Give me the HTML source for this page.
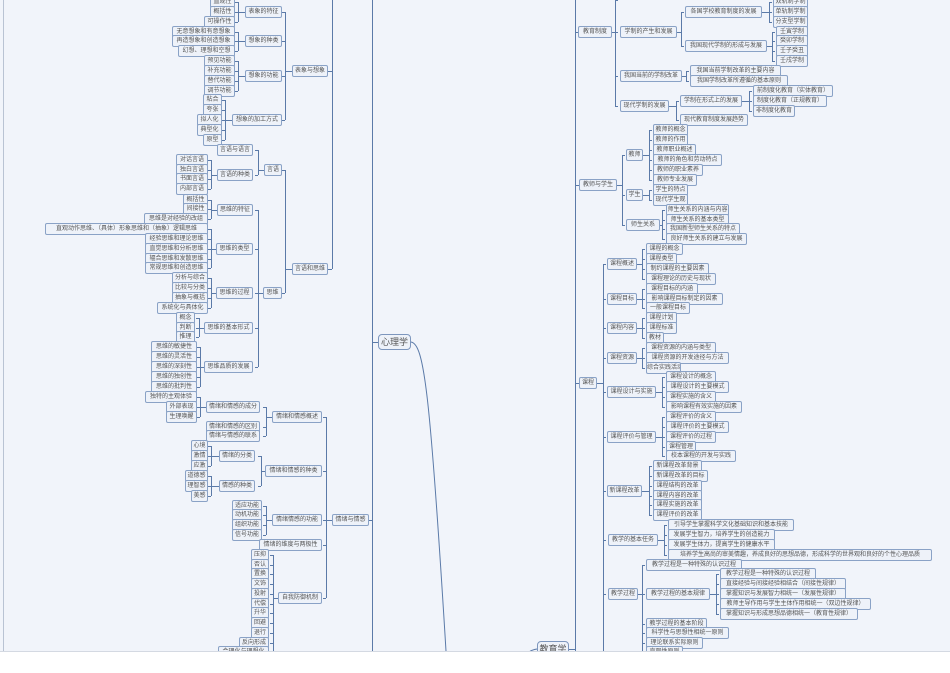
<!DOCTYPE html>
<html><head><meta charset="utf-8">
<style>
html,body{margin:0;padding:0}
body{width:950px;height:672px;position:relative;overflow:hidden;background:#fff}
#bg{position:absolute;left:0;top:0;width:950px;height:651px;background:#f1f4fa;border-bottom:1px solid #d4d9e2}
#lb{position:absolute;left:3px;top:0;width:1px;height:651px;background:#b9c3d3}
.n{position:absolute;box-sizing:border-box;height:12px;border:1px solid #8aa2c6;border-radius:2px;background:#eef2f9;font:6px/10px "Liberation Sans","Noto Sans CJK SC",sans-serif;color:#555;text-align:center;white-space:nowrap;overflow:hidden}
.big{height:16px;font-size:9px;line-height:14px;border-radius:4px;border-color:#7d96bd}
svg{position:absolute;left:0;top:0}
</style></head><body>
<div id="bg"></div><div id="lb"></div>
<svg id="s" width="950" height="651" viewBox="0 0 950 651">
<path d="M411 342 C424 344 430 390 446 651" fill="none" stroke="#5b7aa8" stroke-width="1"/>
<path d="M537 649 Q530 650 527 654" fill="none" stroke="#5b7aa8" stroke-width="1"/>
</svg>

<!-- LEFT -->
<div class="n" style="left:292px;top:65px;width:36px">表象与想象</div>
<div class="n" style="left:245px;top:6px;width:37px">表象的特征</div>
<div class="n" style="left:210px;top:-4px;width:25px">直观性</div>
<div class="n" style="left:210px;top:6px;width:25px">概括性</div>
<div class="n" style="left:204px;top:16px;width:31px">可操作性</div>
<div class="n" style="left:245px;top:35px;width:37px">想象的种类</div>
<div class="n" style="left:172px;top:26px;width:63px">无意想象和有意想象</div>
<div class="n" style="left:172px;top:35px;width:63px">再造想象和创造想象</div>
<div class="n" style="left:178px;top:45px;width:57px">幻想、理想和空想</div>
<div class="n" style="left:245px;top:70px;width:37px">想象的功能</div>
<div class="n" style="left:204px;top:55px;width:31px">预见功能</div>
<div class="n" style="left:204px;top:65px;width:31px">补充功能</div>
<div class="n" style="left:204px;top:75px;width:31px">替代功能</div>
<div class="n" style="left:204px;top:85px;width:31px">调节功能</div>
<div class="n" style="left:232px;top:114px;width:50px">想象的加工方式</div>
<div class="n" style="left:203px;top:94px;width:19px">粘合</div>
<div class="n" style="left:203px;top:104px;width:19px">夸张</div>
<div class="n" style="left:197px;top:114px;width:25px">拟人化</div>
<div class="n" style="left:197px;top:124px;width:25px">典型化</div>
<div class="n" style="left:203px;top:134px;width:19px">原型</div>
<div class="n" style="left:292px;top:263px;width:36px">言语和思维</div>
<div class="n" style="left:264px;top:164px;width:18px">言语</div>
<div class="n" style="left:217px;top:144px;width:36px">言语与语言</div>
<div class="n" style="left:217px;top:169px;width:36px">言语的种类</div>
<div class="n" style="left:176px;top:154px;width:32px">对话言语</div>
<div class="n" style="left:176px;top:164px;width:32px">独白言语</div>
<div class="n" style="left:176px;top:173px;width:32px">书面言语</div>
<div class="n" style="left:176px;top:183px;width:32px">内部言语</div>
<div class="n" style="left:263px;top:287px;width:19px">思维</div>
<div class="n" style="left:217px;top:204px;width:36px">思维的特征</div>
<div class="n" style="left:183px;top:194px;width:25px">概括性</div>
<div class="n" style="left:183px;top:203px;width:25px">间接性</div>
<div class="n" style="left:144px;top:213px;width:64px">思维是对经验的改组</div>
<div class="n" style="left:216px;top:243px;width:37px">思维的类型</div>
<div class="n" style="left:45px;top:223px;width:163px">直观动作思维、（具体）形象思维和（抽象）逻辑思维</div>
<div class="n" style="left:145px;top:233px;width:63px">经验思维和理论思维</div>
<div class="n" style="left:145px;top:243px;width:63px">直觉思维和分析思维</div>
<div class="n" style="left:145px;top:253px;width:63px">辐合思维和发散思维</div>
<div class="n" style="left:145px;top:262px;width:63px">常规思维和创造思维</div>
<div class="n" style="left:216px;top:287px;width:37px">思维的过程</div>
<div class="n" style="left:172px;top:272px;width:36px">分析与综合</div>
<div class="n" style="left:172px;top:282px;width:36px">比较与分类</div>
<div class="n" style="left:172px;top:292px;width:36px">抽象与概括</div>
<div class="n" style="left:157px;top:302px;width:51px">系统化与具体化</div>
<div class="n" style="left:204px;top:322px;width:49px">思维的基本形式</div>
<div class="n" style="left:176px;top:312px;width:19px">概念</div>
<div class="n" style="left:176px;top:322px;width:19px">判断</div>
<div class="n" style="left:176px;top:331px;width:19px">推理</div>
<div class="n" style="left:204px;top:361px;width:49px">思维品质的发展</div>
<div class="n" style="left:151px;top:341px;width:46px">思维的敏捷性</div>
<div class="n" style="left:151px;top:351px;width:46px">思维的灵活性</div>
<div class="n" style="left:151px;top:361px;width:46px">思维的深刻性</div>
<div class="n" style="left:151px;top:371px;width:46px">思维的独创性</div>
<div class="n" style="left:151px;top:381px;width:46px">思维的批判性</div>
<div class="n" style="left:332px;top:514px;width:37px">情绪与情感</div>
<div class="n" style="left:272px;top:411px;width:50px">情绪和情感概述</div>
<div class="n" style="left:206px;top:401px;width:54px">情绪和情感的成分</div>
<div class="n" style="left:206px;top:421px;width:54px">情绪和情感的区别</div>
<div class="n" style="left:206px;top:430px;width:54px">情绪与情感的联系</div>
<div class="n" style="left:145px;top:391px;width:52px">独特的主观体验</div>
<div class="n" style="left:166px;top:401px;width:31px">外部表现</div>
<div class="n" style="left:166px;top:411px;width:31px">生理唤醒</div>
<div class="n" style="left:265px;top:465px;width:57px">情绪和情感的种类</div>
<div class="n" style="left:219px;top:450px;width:36px">情绪的分类</div>
<div class="n" style="left:219px;top:480px;width:36px">情感的种类</div>
<div class="n" style="left:191px;top:440px;width:17px">心境</div>
<div class="n" style="left:191px;top:450px;width:17px">激情</div>
<div class="n" style="left:191px;top:460px;width:17px">应激</div>
<div class="n" style="left:185px;top:470px;width:23px">道德感</div>
<div class="n" style="left:185px;top:480px;width:23px">理智感</div>
<div class="n" style="left:191px;top:490px;width:17px">美感</div>
<div class="n" style="left:272px;top:514px;width:50px">情绪情感的功能</div>
<div class="n" style="left:232px;top:500px;width:30px">适应功能</div>
<div class="n" style="left:232px;top:509px;width:30px">动机功能</div>
<div class="n" style="left:232px;top:519px;width:30px">组织功能</div>
<div class="n" style="left:232px;top:529px;width:30px">信号功能</div>
<div class="n" style="left:259px;top:539px;width:63px">情绪的维度与两极性</div>
<div class="n" style="left:278px;top:592px;width:44px">自我防御机制</div>
<div class="n" style="left:251px;top:549px;width:18px">压抑</div>
<div class="n" style="left:251px;top:559px;width:18px">否认</div>
<div class="n" style="left:251px;top:568px;width:18px">置换</div>
<div class="n" style="left:251px;top:578px;width:18px">文饰</div>
<div class="n" style="left:251px;top:588px;width:18px">投射</div>
<div class="n" style="left:251px;top:598px;width:18px">代偿</div>
<div class="n" style="left:251px;top:607px;width:18px">升华</div>
<div class="n" style="left:251px;top:617px;width:18px">回避</div>
<div class="n" style="left:251px;top:627px;width:18px">退行</div>
<div class="n" style="left:239px;top:637px;width:30px">反向形成</div>
<div class="n" style="left:218px;top:646px;width:51px">合理化与理想化</div>
<div class="n big" style="left:378px;top:334px;width:33px">心理学</div>

<!-- RIGHT -->
<div class="n" style="left:578px;top:26px;width:34px">教育制度</div>
<div class="n" style="left:620px;top:26px;width:57px">学制的产生和发展</div>
<div class="n" style="left:685px;top:6px;width:77px">各国学校教育制度的发展</div>
<div class="n" style="left:773px;top:-4px;width:35px">双轨制学制</div>
<div class="n" style="left:773px;top:6px;width:35px">单轨制学制</div>
<div class="n" style="left:773px;top:16px;width:35px">分支型学制</div>
<div class="n" style="left:685px;top:40px;width:82px">我国现代学制的形成与发展</div>
<div class="n" style="left:776px;top:26px;width:32px">壬寅学制</div>
<div class="n" style="left:776px;top:35px;width:32px">癸卯学制</div>
<div class="n" style="left:776px;top:45px;width:32px">壬子癸丑</div>
<div class="n" style="left:776px;top:55px;width:32px">壬戌学制</div>
<div class="n" style="left:620px;top:70px;width:62px">我国当前的学制改革</div>
<div class="n" style="left:690px;top:65px;width:91px">我国当前学制改革的主要内容</div>
<div class="n" style="left:690px;top:75px;width:98px">我国学制改革所遵循的基本原则</div>
<div class="n" style="left:620px;top:100px;width:49px">现代学制的发展</div>
<div class="n" style="left:680px;top:95px;width:62px">学制在形式上的发展</div>
<div class="n" style="left:680px;top:114px;width:68px">现代教育制度发展趋势</div>
<div class="n" style="left:753px;top:85px;width:80px">前制度化教育（实体教育）</div>
<div class="n" style="left:753px;top:95px;width:74px">制度化教育（正规教育）</div>
<div class="n" style="left:753px;top:105px;width:42px">非制度化教育</div>
<div class="n" style="left:579px;top:179px;width:38px">教师与学生</div>
<div class="n" style="left:626px;top:149px;width:17px">教师</div>
<div class="n" style="left:653px;top:124px;width:35px">教师的概念</div>
<div class="n" style="left:653px;top:134px;width:35px">教师的作用</div>
<div class="n" style="left:653px;top:144px;width:43px">教师职业概述</div>
<div class="n" style="left:653px;top:154px;width:69px">教师的角色和劳动特点</div>
<div class="n" style="left:653px;top:164px;width:50px">教师的职业素养</div>
<div class="n" style="left:653px;top:174px;width:44px">教师专业发展</div>
<div class="n" style="left:626px;top:189px;width:17px">学生</div>
<div class="n" style="left:653px;top:184px;width:35px">学生的特点</div>
<div class="n" style="left:653px;top:194px;width:35px">现代学生观</div>
<div class="n" style="left:626px;top:219px;width:34px">师生关系</div>
<div class="n" style="left:666px;top:204px;width:63px">师生关系的内涵与内容</div>
<div class="n" style="left:666px;top:214px;width:63px">师生关系的基本类型</div>
<div class="n" style="left:666px;top:223px;width:74px">我国新型师生关系的特点</div>
<div class="n" style="left:666px;top:233px;width:81px">良好师生关系的建立与发展</div>
<div class="n" style="left:579px;top:377px;width:18px">课程</div>
<div class="n" style="left:607px;top:258px;width:30px">课程概述</div>
<div class="n" style="left:646px;top:243px;width:37px">课程的概念</div>
<div class="n" style="left:646px;top:253px;width:31px">课程类型</div>
<div class="n" style="left:646px;top:263px;width:63px">制约课程的主要因素</div>
<div class="n" style="left:646px;top:273px;width:70px">课程理论的历史与现状</div>
<div class="n" style="left:607px;top:293px;width:30px">课程目标</div>
<div class="n" style="left:646px;top:283px;width:52px">课程目标的内涵</div>
<div class="n" style="left:646px;top:293px;width:77px">影响课程目标制定的因素</div>
<div class="n" style="left:646px;top:302px;width:44px">一般课程目标</div>
<div class="n" style="left:607px;top:322px;width:30px">课程内容</div>
<div class="n" style="left:646px;top:312px;width:31px">课程计划</div>
<div class="n" style="left:646px;top:322px;width:31px">课程标准</div>
<div class="n" style="left:646px;top:332px;width:18px">教材</div>
<div class="n" style="left:607px;top:352px;width:30px">课程资源</div>
<div class="n" style="left:646px;top:342px;width:70px">课程资源的内涵与类型</div>
<div class="n" style="left:646px;top:352px;width:83px">课程资源的开发途径与方法</div>
<div class="n" style="left:646px;top:362px;width:35px">综合实践活动</div>
<div class="n" style="left:607px;top:386px;width:49px">课程设计与实施</div>
<div class="n" style="left:666px;top:371px;width:50px">课程设计的概念</div>
<div class="n" style="left:666px;top:381px;width:63px">课程设计的主要模式</div>
<div class="n" style="left:666px;top:391px;width:50px">课程实施的含义</div>
<div class="n" style="left:666px;top:401px;width:76px">影响课程有效实施的因素</div>
<div class="n" style="left:607px;top:431px;width:49px">课程评价与管理</div>
<div class="n" style="left:666px;top:411px;width:50px">课程评价的含义</div>
<div class="n" style="left:666px;top:421px;width:63px">课程评价的主要模式</div>
<div class="n" style="left:666px;top:431px;width:50px">课程评价的过程</div>
<div class="n" style="left:666px;top:441px;width:30px">课程管理</div>
<div class="n" style="left:666px;top:450px;width:70px">校本课程的开发与实践</div>
<div class="n" style="left:607px;top:485px;width:35px">新课程改革</div>
<div class="n" style="left:653px;top:460px;width:49px">新课程改革背景</div>
<div class="n" style="left:653px;top:470px;width:55px">新课程改革的目标</div>
<div class="n" style="left:653px;top:480px;width:49px">课程结构的改革</div>
<div class="n" style="left:653px;top:490px;width:49px">课程内容的改革</div>
<div class="n" style="left:653px;top:499px;width:49px">课程实施的改革</div>
<div class="n" style="left:653px;top:509px;width:49px">课程评价的改革</div>
<div class="n" style="left:608px;top:534px;width:50px">教学的基本任务</div>
<div class="n" style="left:668px;top:519px;width:126px">引导学生掌握科学文化基础知识和基本技能</div>
<div class="n" style="left:668px;top:529px;width:107px">发展学生智力，培养学生的创造能力</div>
<div class="n" style="left:668px;top:539px;width:107px">发展学生体力，提高学生的健康水平</div>
<div class="n" style="left:668px;top:549px;width:264px">培养学生高尚的审美情趣，养成良好的思想品德，形成科学的世界观和良好的个性心理品质</div>
<div class="n" style="left:608px;top:588px;width:30px">教学过程</div>
<div class="n" style="left:646px;top:559px;width:96px">教学过程是一种特殊的认识过程</div>
<div class="n" style="left:646px;top:588px;width:64px">教学过程的基本规律</div>
<div class="n" style="left:720px;top:568px;width:96px">教学过程是一种特殊的认识过程</div>
<div class="n" style="left:720px;top:578px;width:126px">直接经验与间接经验相结合（间接性规律）</div>
<div class="n" style="left:720px;top:588px;width:126px">掌握知识与发展智力相统一（发展性规律）</div>
<div class="n" style="left:720px;top:598px;width:151px">教师主导作用与学生主体作用相统一（双边性规律）</div>
<div class="n" style="left:720px;top:608px;width:138px">掌握知识与形成思想品德相统一（教育性规律）</div>
<div class="n" style="left:646px;top:618px;width:61px">教学过程的基本阶段</div>
<div class="n" style="left:646px;top:627px;width:83px">科学性与思想性相统一原则</div>
<div class="n" style="left:646px;top:637px;width:57px">理论联系实际原则</div>
<div class="n" style="left:646px;top:646px;width:37px">直观性原则</div>
<div class="n big" style="left:537px;top:641px;width:32px">教育学</div>
<div style="position:absolute;left:0;top:651px;width:950px;height:21px;background:#fff;border-top:1px solid #d4d9e2"></div>

<script>
var s=document.getElementById('s'),C='#5b7aa8';
function ln(x1,y1,x2,y2){var l=document.createElementNS('http://www.w3.org/2000/svg','line');l.setAttribute('x1',x1);l.setAttribute('y1',y1);l.setAttribute('x2',x2);l.setAttribute('y2',y2);l.setAttribute('stroke',C);l.setAttribute('stroke-width',1);l.setAttribute('shape-rendering','crispEdges');s.appendChild(l);}
function G(bx,px,py,ys,d){var a=ys.concat([py]);ln(bx+.5,Math.min.apply(0,a),bx+.5,Math.max.apply(0,a));ln(bx,py+.5,px,py+.5);ys.forEach(function(y){ln(bx,y+.5,bx+d,y+.5);});}
function L(bx,px,py,ys){G(bx,px,py,ys,-3);}
function R(bx,px,py,ys){G(bx,px,py,ys,3);}
ln(332.5,0,332.5,269);ln(328,71.5,332,71.5);ln(328,269.5,332,269.5);
L(285,292,71,[12,41,76,120]);L(238,245,12,[2,12,22]);L(238,245,41,[32,41,51]);L(238,245,76,[61,71,81,91]);L(225,232,120,[100,110,120,130,140]);
L(285,292,269,[170,293]);L(258,264,170,[150,175]);L(211,217,175,[160,170,179,189]);
L(258,263,293,[210,249,293,328,367]);L(211,217,210,[200,209,219]);L(211,216,249,[229,239,249,259,268]);L(211,216,293,[278,288,298,308]);L(199,204,328,[318,328,337]);L(200,204,367,[347,357,367,377,387]);
ln(372.5,0,372.5,651);ln(369,520.5,372,520.5);ln(372,342.5,378,342.5);
L(326,332,520,[417,471,520,545,598]);L(266,272,417,[407,427,436]);L(200,206,407,[397,407,417]);L(261,265,471,[456,486]);L(211,219,456,[446,456,466]);L(211,219,486,[476,486,496]);L(266,272,520,[506,515,525,535]);
L(273,278,598,[555,565,574,584,594,604,613,623,633,643,652]);
ln(575.5,0,575.5,651);ln(569,649.5,575,649.5);[32,185,383].forEach(function(y){ln(575,y+.5,579,y+.5);});
R(603,597,383,[264,299,328,358,392,437,491,540,594,651]);
R(615,612,32,[0,32,76,106]);R(681,677,32,[12,46]);R(769,762,12,[2,12,22]);R(772,767,46,[32,41,51,61]);R(686,682,76,[71,81]);R(676,669,106,[101,120]);R(749,742,101,[91,101,111]);
R(622,617,185,[155,195,225]);R(649,643,155,[130,140,150,160,170,180]);R(649,643,195,[190,200]);R(662,660,225,[210,220,229,239]);
R(642,637,264,[249,259,269,279]);R(642,637,299,[289,299,308]);R(642,637,328,[318,328,338]);R(642,637,358,[348,358,368]);R(662,656,392,[377,387,397,407]);R(662,656,437,[417,427,437,447,456]);R(649,642,491,[466,476,486,496,505,515]);
R(664,658,540,[525,535,545,555]);R(642,638,594,[565,594,624,633,643,652]);R(716,710,594,[574,584,594,604,614]);
</script>
</body></html>
